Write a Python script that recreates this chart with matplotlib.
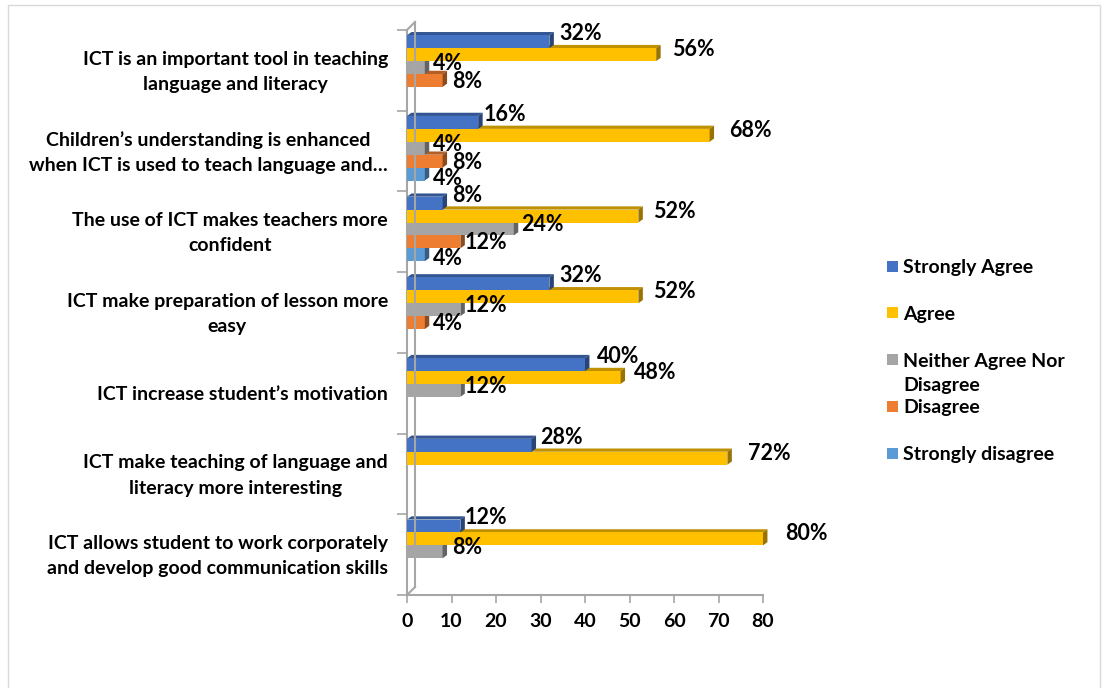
import matplotlib
matplotlib.use("Agg")
import matplotlib.pyplot as plt
from matplotlib.patches import Rectangle, Polygon
from matplotlib.lines import Line2D
from matplotlib.transforms import IdentityTransform, ScaledTranslation, blended_transform_factory
import matplotlib.colors as mcolors

plt.rcParams['font.family'] = ['Lato', 'DejaVu Sans']

categories = [
    "ICT is an important tool in teaching\nlanguage and literacy",
    "Children\u2019s understanding is enhanced\nwhen ICT is used to teach language and\u2026",
    "The use of ICT makes teachers more\nconfident",
    "ICT make preparation of lesson more\neasy",
    "ICT increase student\u2019s motivation",
    "ICT make teaching of language and\nliteracy more interesting",
    "ICT allows student to work corporately\nand develop good communication skills",
]
series_names = ["Strongly Agree", "Agree", "Neither Agree Nor\nDisagree", "Disagree", "Strongly disagree"]
strongly_agree = [32, 16, 8, 32, 40, 28, 12]
agree = [56, 68, 52, 52, 48, 72, 80]
neither = [4, 4, 24, 12, 12, 0, 8]
disagree = [8, 8, 12, 4, 0, 0, 0]
strongly_disagree = [0, 4, 4, 0, 0, 0, 0]
x_ticks = [0, 10, 20, 30, 40, 50, 60, 70, 80]

series = [strongly_agree, agree, neither, disagree, strongly_disagree]
colors = ["#4472C4", "#FFC000", "#A5A5A5", "#ED7D31", "#5B9BD5"]
label_dy_px = [-8, -5, -4, 1, 4]   # vertical nudge of value labels per series (style)

W, H = 1107, 688
fig = plt.figure(figsize=(W / 100, H / 100), dpi=100)
ax = fig.add_axes([407 / W, 1 - 595 / H, (763 - 407) / W, (595 - 30) / H])

n_cat = len(categories)
band_px = (595 - 30) / n_cat
bar_h = 0.16
top_off = 0.065
dx = 1.0      # 3D depth in data units (x)
dy = 0.04     # 3D depth in data units (y)


def darker(c, f=0.75):
    r, g, b = mcolors.to_rgb(c)
    return (r * f, g * f, b * f)


# draw lower series first so that upper bars cover the top faces
for k in reversed(range(len(series))):
    vals = series[k]
    col = colors[k]
    for i, v in enumerate(vals):
        if v == 0:
            continue
        yt = i - 0.5 + top_off + k * bar_h
        yb = yt + bar_h
        z = 2 + (5 - k)
        ax.add_patch(Polygon([(0, yt), (v, yt), (v + dx, yt - dy), (dx, yt - dy)],
                             closed=True, facecolor=darker(col), edgecolor='none',
                             zorder=z, clip_on=False))
        ax.add_patch(Rectangle((0, yt), v, bar_h, facecolor=col, edgecolor='none',
                               zorder=z, clip_on=False))
        ax.add_patch(Polygon([(v, yt), (v + dx, yt - dy), (v + dx, yb - dy), (v, yb)],
                             closed=True, facecolor=darker(col, 0.6), edgecolor='none',
                             zorder=z, clip_on=False))
        ax.text(v * 1.06 + 5, (yt + yb) / 2 + label_dy_px[k] / band_px, f"{v}%",
                ha='center', va='center', fontsize=15.5, fontweight='bold',
                color='black', zorder=20, clip_on=False)

ax.set_xlim(0, 80)
ax.set_ylim(n_cat - 0.5, -0.5)
ax.set_xticks(x_ticks)
ax.set_xticklabels([str(t) for t in x_ticks], fontsize=14, fontweight='bold')
ax.set_yticks([])
ax.set_yticks([i - 0.5 for i in range(n_cat + 1)], minor=True)
ax.tick_params(axis='y', which='minor', length=7, color='#A6A6A6', width=1.2,
               labelleft=False)
ax.tick_params(axis='x', length=6, color='#A6A6A6', width=1.2, pad=7)

# category labels
blend = blended_transform_factory(ax.transAxes, ax.transData)
for i, cat in enumerate(categories):
    shift = -1.5 if "\n" in cat else -1.0
    tr = blend + ScaledTranslation(-19 / 100, shift / 100, fig.dpi_scale_trans)
    ax.text(0, i, cat, transform=tr, ha='right', va='center', multialignment='center',
            fontsize=14, fontweight='bold', linespacing=1.6, clip_on=False)

for s in ['top', 'right']:
    ax.spines[s].set_visible(False)
for s in ['left', 'bottom']:
    ax.spines[s].set_color('#A6A6A6')
    ax.spines[s].set_linewidth(1.5)

# 3D wall back edge
p_top = ax.transAxes.transform((0, 1))
p_bot = ax.transAxes.transform((0, 0))
off = 8
for xs, ys in [
    ([p_top[0] + off, p_bot[0] + off], [p_top[1] + off, p_bot[1] + off]),
    ([p_top[0], p_top[0] + off], [p_top[1], p_top[1] + off]),
    ([p_bot[0], p_bot[0] + off], [p_bot[1], p_bot[1] + off]),
]:
    fig.lines.append(Line2D(xs, ys, transform=IdentityTransform(), color='#A6A6A6',
                            linewidth=1.5))

# legend (manual)
for k, name in enumerate(series_names):
    yc = 266 + 46.8 * k
    fig.patches.append(Rectangle((887 / W, 1 - (yc + 5.5) / H), 11 / W, 11 / H,
                                 transform=fig.transFigure, facecolor=colors[k],
                                 edgecolor='none'))
    fig.text(903 / W, 1 - (yc - 7) / H, name, ha='left', va='top', fontsize=14,
             fontweight='bold', linespacing=1.5)

# outer border
fig.patches.append(Rectangle((8 / W, -0.02), (1100 - 8) / W, 1.02 - 5 / H,
                             transform=fig.transFigure, fill=False,
                             edgecolor='#D9D9D9', linewidth=1))

fig.savefig("out.png", dpi=100)
